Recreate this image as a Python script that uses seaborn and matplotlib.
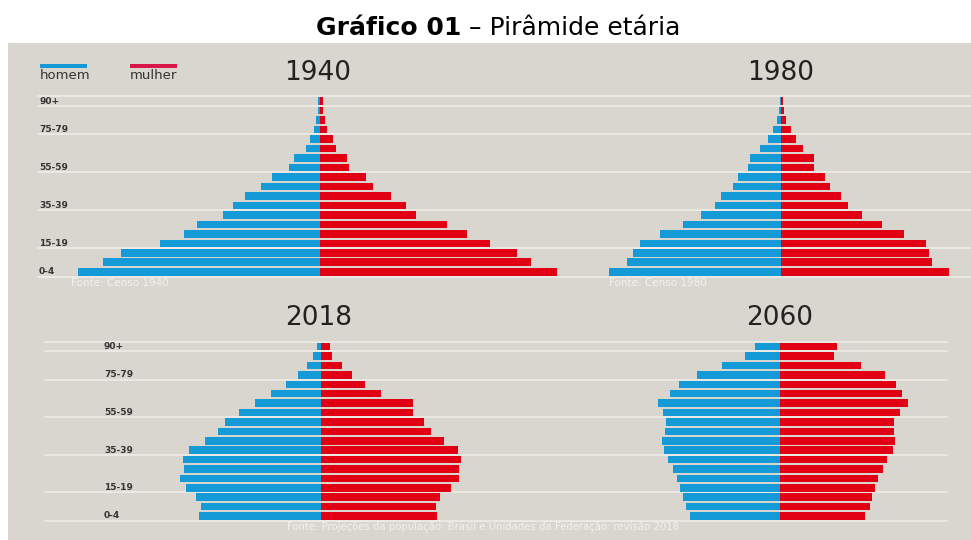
import matplotlib
matplotlib.use("Agg")
import matplotlib.pyplot as plt
import seaborn as sns
import pandas as pd

# age groups, bottom (0-4) to top (90+)
ages = ["0-4", "5-9", "10-14", "15-19", "20-24", "25-29", "30-34", "35-39",
        "40-44", "45-49", "50-54", "55-59", "60-64", "65-69", "70-74",
        "75-79", "80-84", "85-89", "90+"]
labelled = ["0-4", "15-19", "35-39", "55-59", "75-79", "90+"]

# bar lengths (relative units)
homem_1940 = [242, 217, 199, 160, 136, 123, 97, 87, 75, 59, 48, 31, 26, 14, 10, 6, 4, 2, 2]
mulher_1940 = [237, 211, 197, 170, 147, 127, 96, 86, 71, 53, 46, 29, 27, 16, 13, 7, 5, 3, 3]
homem_1980 = [172, 154, 148, 141, 121, 98, 80, 66, 60, 48, 43, 33, 31, 21, 13, 8, 4, 2, 1]
mulher_1980 = [168, 151, 148, 145, 123, 101, 81, 67, 60, 49, 44, 33, 33, 22, 15, 10, 5, 3, 2]
homem_2018 = [122, 120, 125, 135, 141, 137, 138, 132, 116, 103, 96, 82, 66, 50, 35, 23, 14, 8, 4]
mulher_2018 = [116, 115, 119, 130, 138, 138, 140, 137, 123, 110, 103, 92, 92, 60, 44, 31, 21, 11, 9]
homem_2060 = [90, 94, 97, 100, 103, 107, 112, 116, 118, 115, 114, 117, 122, 110, 101, 83, 58, 35, 25]
mulher_2060 = [85, 90, 92, 95, 98, 103, 107, 113, 115, 114, 114, 120, 128, 122, 116, 105, 81, 54, 57]

BLUE = "#149bd7"
RED = "#e10014"
LEGEND_RED = "#d9164a"
BG = "#d9d6d0"
GRID = "#eeece8"
W, H = 971, 540

sns.set_style("white")
plt.rcParams["font.family"] = ["DejaVu Sans"]

fig = plt.figure(figsize=(W / 100, H / 100), dpi=100)


def box(x0, y0, x1, y1):
    # pixel box -> figure fraction
    return [x0 / W, 1 - y1 / H, (x1 - x0) / W, (y1 - y0) / H]


def fx(x):
    return x / W


def fy(y):
    return 1 - y / H


# grey panel
fig.add_artist(plt.Rectangle((fx(8), 0), 1 - fx(8), fy(43), transform=fig.transFigure,
                             facecolor=BG, edgecolor="none", zorder=0))


def pyramid(rect, center, homem, mulher, label_x=None):
    ax = fig.add_axes(box(*rect))
    df = pd.DataFrame({
        "row": list(range(len(ages))) * 2,
        "valor": [-v for v in homem] + list(mulher),
        "sexo": ["homem"] * len(ages) + ["mulher"] * len(ages),
    })
    sns.barplot(data=df, x="valor", y="row", hue="sexo", orient="y", native_scale=True,
                dodge=False, width=0.8, palette={"homem": BLUE, "mulher": RED},
                saturation=1, errorbar=None, legend=False, linewidth=0, ax=ax, zorder=2)
    ax.set_xlim(rect[0] - center, rect[2] - center)
    ax.set_ylim(-0.5, 18.5)
    for yy in [-0.5, 2.5, 6.5, 10.5, 14.5, 17.5, 18.5]:
        ax.axhline(yy, color=GRID, lw=1.2, zorder=1, clip_on=False)
    if label_x is not None:
        for lab in labelled:
            ax.text(label_x - center, ages.index(lab), lab, ha="left", va="center",
                    fontsize=6.5, fontweight="bold", color="#333333", zorder=3)
    ax.set_facecolor("none")
    ax.axis("off")
    return ax


pyramid((38, 96.3, 560, 276.5), 320, homem_1940, mulher_1940, 39)
pyramid((560, 96.3, 971, 276.5), 781, homem_1980, mulher_1980)
pyramid((45, 342, 560, 520.7), 320.7, homem_2018, mulher_2018, 104)
pyramid((560, 342, 947, 520.7), 780.3, homem_2060, mulher_2060)

# year titles
for x, y, t in [(318, 73, "1940"), (780.5, 73, "1980"), (318.7, 318, "2018"), (780, 318, "2060")]:
    fig.text(fx(x), fy(y), t, ha="center", va="center", fontsize=19, color="#222222")

# legend
fig.add_artist(plt.Rectangle((fx(40), fy(68)), fx(47), 4.5 / H, transform=fig.transFigure,
                             facecolor=BLUE, edgecolor="none"))
fig.add_artist(plt.Rectangle((fx(130), fy(68)), fx(47), 4.5 / H, transform=fig.transFigure,
                             facecolor=LEGEND_RED, edgecolor="none"))
fig.text(fx(40), fy(75.5), "homem", ha="left", va="center", fontsize=9.5, color="#333333")
fig.text(fx(130), fy(75.5), "mulher", ha="left", va="center", fontsize=9.5, color="#333333")

# sources
fig.text(fx(71), fy(283), "Fonte: Censo 1940", ha="left", va="center", fontsize=7.5, color="#f3f1ed")
fig.text(fx(609), fy(283), "Fonte: Censo 1980", ha="left", va="center", fontsize=7.5, color="#f3f1ed")
fig.text(fx(483), fy(527), "Fonte: Projeções da população: Brasil e Unidades da Federação: revisão 2018",
         ha="center", va="center", fontsize=7.3, color="#f3f1ed")

# title: bold part + regular part
renderer = fig.canvas.get_renderer()
t1 = fig.text(fx(316), fy(28), "Gráfico 01", ha="left", va="center", fontsize=18,
              fontweight="bold", color="black")
bb = t1.get_window_extent(renderer)
fig.text(bb.x1 / W, fy(28), " – Pirâmide etária", ha="left", va="center", fontsize=18,
         color="black")

fig.savefig("out.png", dpi=100)
